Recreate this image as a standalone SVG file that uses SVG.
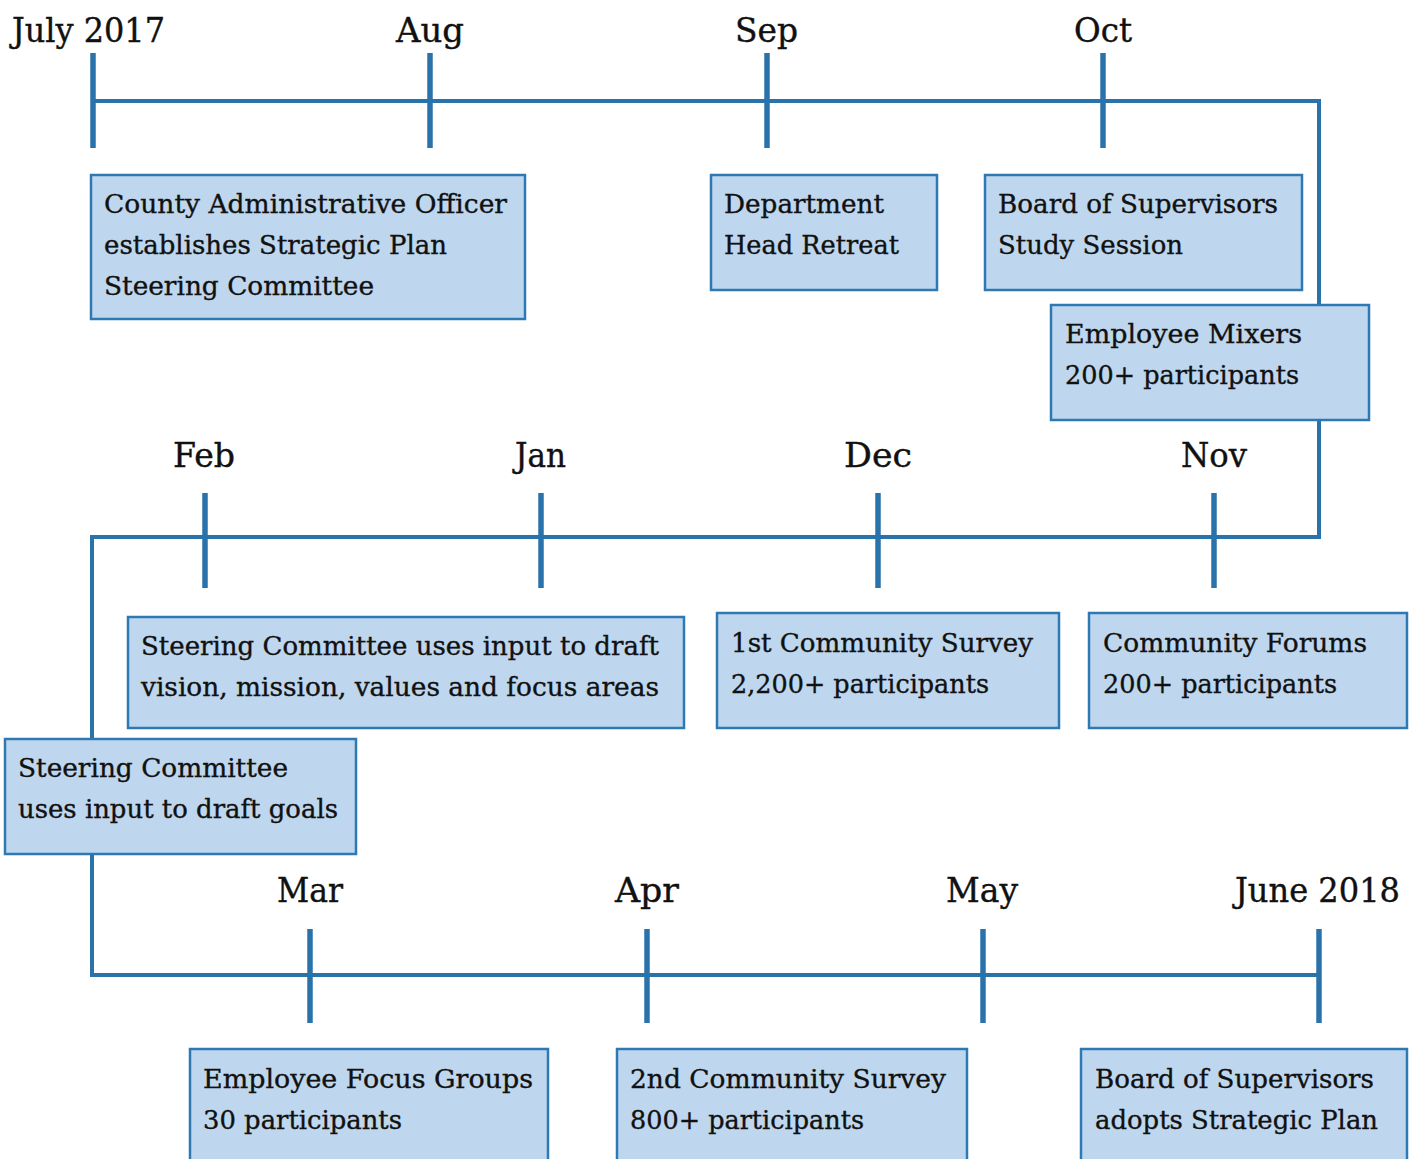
<svg xmlns="http://www.w3.org/2000/svg" width="1414" height="1159" viewBox="0 0 1414 1159">
<style>
.ln{stroke:#2a72aa;stroke-width:4;fill:none}
.tk{stroke:#2a72aa;stroke-width:5.5}
.box{fill:#bfd7ee;stroke:#2e78b4;stroke-width:2.5}
.t{font-family:"DejaVu Serif","Liberation Serif",serif;font-size:25.5px;fill:#111;stroke:#111;stroke-width:0.35}
.m{font-family:"DejaVu Serif","Liberation Serif",serif;font-size:34px;fill:#111;stroke:#111;stroke-width:0.4}
</style>
<rect width="1414" height="1159" fill="#fff"/>
<g id="connectors">
<polyline class="ln" points="93,101 1319,101 1319,537 92,537 92,975 1319,975"/>
<line class="tk" x1="93" y1="53" x2="93" y2="148"/>
<line class="tk" x1="430" y1="53" x2="430" y2="148"/>
<line class="tk" x1="767" y1="53" x2="767" y2="148"/>
<line class="tk" x1="1103" y1="53" x2="1103" y2="148"/>
<line class="tk" x1="205" y1="493" x2="205" y2="588"/>
<line class="tk" x1="541" y1="493" x2="541" y2="588"/>
<line class="tk" x1="878" y1="493" x2="878" y2="588"/>
<line class="tk" x1="1214" y1="493" x2="1214" y2="588"/>
<line class="tk" x1="310" y1="929" x2="310" y2="1023"/>
<line class="tk" x1="647" y1="929" x2="647" y2="1023"/>
<line class="tk" x1="983" y1="929" x2="983" y2="1023"/>
<line class="tk" x1="1319" y1="929" x2="1319" y2="1023"/>
</g>
<g id="months">
<text class="m" x="12" y="42" textLength="153" lengthAdjust="spacingAndGlyphs">July 2017</text>
<text class="m" x="396" y="42" textLength="68" lengthAdjust="spacingAndGlyphs">Aug</text>
<text class="m" x="735" y="42" textLength="63" lengthAdjust="spacingAndGlyphs">Sep</text>
<text class="m" x="1074" y="42" textLength="58" lengthAdjust="spacingAndGlyphs">Oct</text>
<text class="m" x="173" y="467" textLength="62" lengthAdjust="spacingAndGlyphs">Feb</text>
<text class="m" x="515" y="467" textLength="51" lengthAdjust="spacingAndGlyphs">Jan</text>
<text class="m" x="844" y="467" textLength="68" lengthAdjust="spacingAndGlyphs">Dec</text>
<text class="m" x="1181" y="467" textLength="66" lengthAdjust="spacingAndGlyphs">Nov</text>
<text class="m" x="277" y="902" textLength="66" lengthAdjust="spacingAndGlyphs">Mar</text>
<text class="m" x="615" y="902" textLength="64" lengthAdjust="spacingAndGlyphs">Apr</text>
<text class="m" x="946" y="902" textLength="72" lengthAdjust="spacingAndGlyphs">May</text>
<text class="m" x="1235" y="902" textLength="165" lengthAdjust="spacingAndGlyphs">June 2018</text>
</g>
<g id="n1"><rect class="box" x="91" y="175" width="434" height="144"/>
<text class="t" x="104" y="213" textLength="403" lengthAdjust="spacingAndGlyphs">County Administrative Officer</text>
<text class="t" x="104" y="254" textLength="343" lengthAdjust="spacingAndGlyphs">establishes Strategic Plan</text>
<text class="t" x="104" y="295" textLength="270" lengthAdjust="spacingAndGlyphs">Steering Committee</text></g>
<g id="n2"><rect class="box" x="711" y="175" width="226" height="115"/>
<text class="t" x="724" y="213" textLength="160" lengthAdjust="spacingAndGlyphs">Department</text>
<text class="t" x="724" y="254" textLength="175" lengthAdjust="spacingAndGlyphs">Head Retreat</text></g>
<g id="n3"><rect class="box" x="985" y="175" width="317" height="115"/>
<text class="t" x="998" y="213" textLength="280" lengthAdjust="spacingAndGlyphs">Board of Supervisors</text>
<text class="t" x="998" y="254" textLength="185" lengthAdjust="spacingAndGlyphs">Study Session</text></g>
<g id="n4"><rect class="box" x="1051" y="305" width="318" height="115"/>
<text class="t" x="1065" y="343" textLength="237" lengthAdjust="spacingAndGlyphs">Employee Mixers</text>
<text class="t" x="1065" y="384" textLength="234" lengthAdjust="spacingAndGlyphs">200+ participants</text></g>
<g id="n5"><rect class="box" x="128" y="617" width="556" height="111"/>
<text class="t" x="141" y="655" textLength="518" lengthAdjust="spacingAndGlyphs">Steering Committee uses input to draft</text>
<text class="t" x="141" y="696" textLength="518" lengthAdjust="spacingAndGlyphs">vision, mission, values and focus areas</text></g>
<g id="n6"><rect class="box" x="717" y="613" width="342" height="115"/>
<text class="t" x="731" y="652" textLength="302" lengthAdjust="spacingAndGlyphs">1st Community Survey</text>
<text class="t" x="731" y="693" textLength="258" lengthAdjust="spacingAndGlyphs">2,200+ participants</text></g>
<g id="n7"><rect class="box" x="1089" y="613" width="318" height="115"/>
<text class="t" x="1103" y="652" textLength="264" lengthAdjust="spacingAndGlyphs">Community Forums</text>
<text class="t" x="1103" y="693" textLength="234" lengthAdjust="spacingAndGlyphs">200+ participants</text></g>
<g id="n8"><rect class="box" x="5" y="739" width="351" height="115"/>
<text class="t" x="18" y="777" textLength="270" lengthAdjust="spacingAndGlyphs">Steering Committee</text>
<text class="t" x="18" y="818" textLength="320" lengthAdjust="spacingAndGlyphs">uses input to draft goals</text></g>
<g id="n9"><rect class="box" x="190" y="1049" width="358" height="130"/>
<text class="t" x="203" y="1088" textLength="330" lengthAdjust="spacingAndGlyphs">Employee Focus Groups</text>
<text class="t" x="203" y="1129" textLength="199" lengthAdjust="spacingAndGlyphs">30 participants</text></g>
<g id="n10"><rect class="box" x="617" y="1049" width="350" height="130"/>
<text class="t" x="630" y="1088" textLength="316" lengthAdjust="spacingAndGlyphs">2nd Community Survey</text>
<text class="t" x="630" y="1129" textLength="234" lengthAdjust="spacingAndGlyphs">800+ participants</text></g>
<g id="n11"><rect class="box" x="1081" y="1049" width="326" height="130"/>
<text class="t" x="1095" y="1088" textLength="279" lengthAdjust="spacingAndGlyphs">Board of Supervisors</text>
<text class="t" x="1095" y="1129" textLength="283" lengthAdjust="spacingAndGlyphs">adopts Strategic Plan</text></g>
</svg>
